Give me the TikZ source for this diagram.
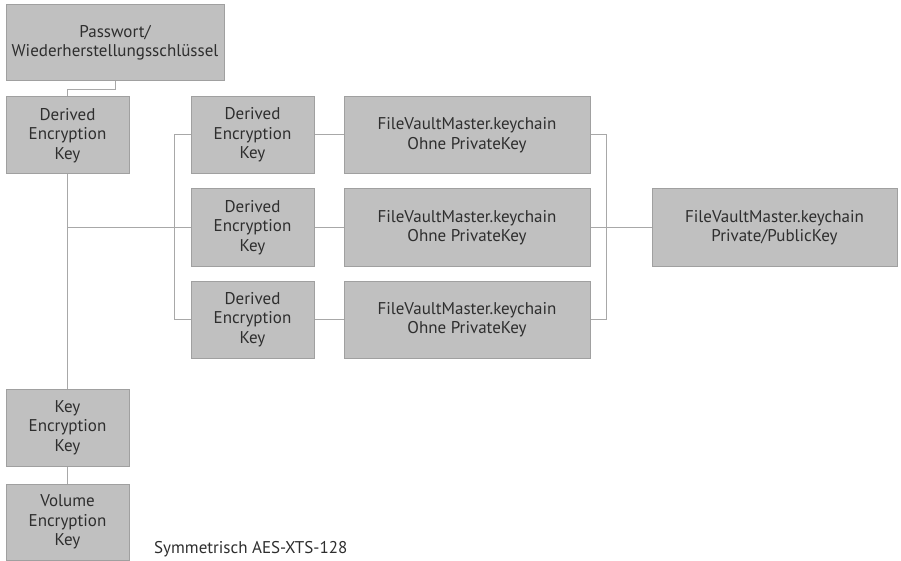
\documentclass[tikz,border=0pt]{standalone}
\usepackage{fontspec}
\setmainfont{PT Sans}
\usepackage{tikz}
\usetikzlibrary{positioning}
\definecolor{boxfill}{HTML}{C0C0C0}
\definecolor{boxline}{HTML}{A0A0A0}
\definecolor{wire}{HTML}{A8A8A8}
\definecolor{ink}{HTML}{2E2E2E}

\tikzset{
  keybox/.style={draw=boxline, fill=boxfill, line width=1pt, align=center,
    text=ink, font=\fontsize{17}{19.5}\selectfont, inner sep=0pt},
  smallbox/.style={keybox, minimum width=123pt, minimum height=77pt},
  widebox/.style={keybox, minimum width=246pt, minimum height=77pt},
  wire/.style={draw=wire, line width=1pt}
}

\begin{document}
\begin{tikzpicture}[x=1pt, y=-1pt]
      \useasboundingbox (0,0) rectangle (901,561);

      % Password box and first derived key
      \node[keybox, minimum width=218pt, minimum height=76pt] (pw) at (115,43)
        {Passwort/\\Wiederherstellungsschlüssel};
      \node[smallbox] (dek0) at (67.5,135.5) {Derived\\Encryption\\Key};

      % Three derived keys with their keychains
      \node[smallbox] (dek1) at (252.5,135) {Derived\\Encryption\\Key};
      \node[smallbox] (dek2) at (252.5,227.5) {Derived\\Encryption\\Key};
      \node[smallbox] (dek3) at (252.5,319.5) {Derived\\Encryption\\Key};
      \node[widebox] (fvm1) at (467,135) {FileVaultMaster.keychain\\Ohne PrivateKey};
      \node[widebox] (fvm2) at (467,227.5) {FileVaultMaster.keychain\\Ohne PrivateKey};
      \node[widebox] (fvm3) at (467,319.5) {FileVaultMaster.keychain\\Ohne PrivateKey};

      % Master keychain
      \node[widebox, minimum width=245pt] (priv) at (774.5,227.5)
        {FileVaultMaster.keychain\\Private/PublicKey};

      % Key encryption key and volume key
      \node[smallbox] (kek) at (67.5,427.5) {Key\\Encryption\\Key};
      \node[smallbox, minimum height=76pt] (vek) at (67.5,522) {Volume\\Encryption\\Key};
      \node[anchor=west, text=ink, font=\fontsize{17}{19.5}\selectfont, inner sep=0pt]
        (algo) at (154,549) {Symmetrisch AES-XTS-128};

      % Connectors
      \draw[wire] (pw.south) -- ++(0,8) -| (dek0.north);
      \draw[wire] (dek0.south) -- (kek.north);
      \draw[wire] (kek.south) -- (vek.north);
      \draw[wire] (dek0.south |- dek2.west) -- (dek2.west);
      \draw[wire] (dek1.west) -- ++(-16,0) |- (dek3.west);
      \foreach \i in {1,2,3}
        \draw[wire] (dek\i.east) -- (fvm\i.west);
      \draw[wire] (fvm1.east) -- ++(16,0) |- (fvm3.east);
      \draw[wire] (fvm2.east) -- (priv.west);
    \end{tikzpicture}
\end{document}
